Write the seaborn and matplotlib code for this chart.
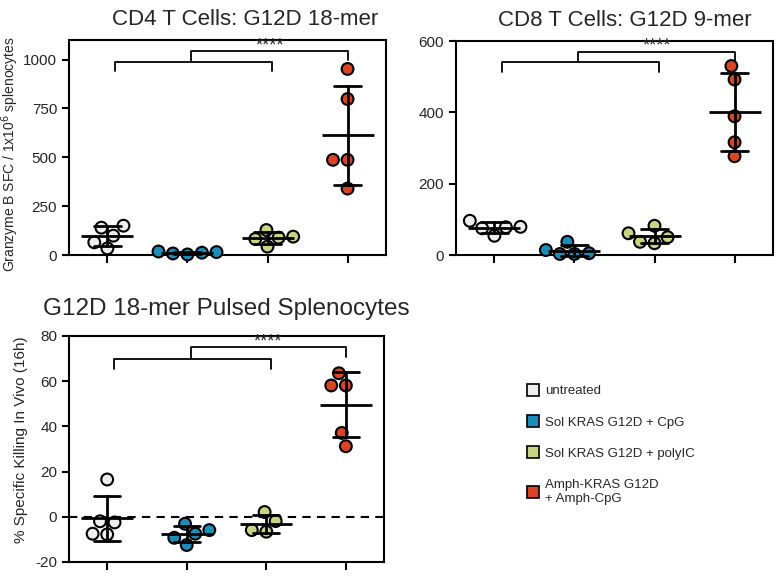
import numpy as np
import pandas as pd
import matplotlib
matplotlib.use('Agg')
import matplotlib.pyplot as plt
import matplotlib.transforms as mtransforms
from matplotlib.lines import Line2D
import seaborn as sns

# groups and colours
groups = ['untreated', 'Sol KRAS G12D + CpG', 'Sol KRAS G12D + polyIC', 'Amph-KRAS G12D\n+ Amph-CpG']
colors = ['#EEEEEE', '#1A8DB8', '#C8D47F', '#DB4325']

# CD4 T cells, G12D 18-mer (Granzyme B SFC)
cd4_untreated = [34, 150, 99, 140, 65]
cd4_cpg = [12, 18, 8, 15, 3]
cd4_polyic = [128, 43, 94, 82, 89]
cd4_amph = [952, 798, 487, 487, 340]

# CD8 T cells, G12D 9-mer
cd8_untreated = [96, 54, 78, 75, 79]
cd8_cpg = [37, 3, 14, 3, 5]
cd8_polyic = [82, 33, 61, 37, 50]
cd8_amph = [530, 492, 389, 316, 277]

# % specific killing in vivo
kill_untreated = [16.5, -2.5, -2.0, -7.8, -7.5]
kill_cpg = [-5.9, -12.5, -7.5, -3.1, -9.3]
kill_polyic = [-6.6, -1.9, 2.1, -5.9]
kill_amph = [63.5, 58.1, 58.1, 37.1, 31.2]


def make_df(*series):
    rows = []
    for g, vals in zip(groups, series):
        for v in vals:
            rows.append({'group': g, 'value': v})
    return pd.DataFrame(rows)


sns.set_style('ticks')
plt.rcParams['font.family'] = ['Liberation Sans', 'DejaVu Sans']
plt.rcParams['axes.unicode_minus'] = False

fig = plt.figure(figsize=(7.76, 5.86), dpi=100)
ax1 = fig.add_axes([0.0889, 0.5648, 0.4085, 0.3669])
ax2 = fig.add_axes([0.5876, 0.5648, 0.4085, 0.3652])
ax3 = fig.add_axes([0.0889, 0.0410, 0.4060, 0.3857])

palette = dict(zip(groups, colors))


def panel(ax, df, ylim, yticks, title, title_x, title_y, title_size):
    sns.pointplot(data=df, x='group', y='value', order=groups, errorbar='sd',
                  capsize=0.33, linestyle='none', marker='_', markersize=38,
                  markeredgewidth=2, color='black',
                  err_kws={'linewidth': 2, 'zorder': 5}, zorder=5, ax=ax)
    sns.swarmplot(data=df, x='group', y='value', order=groups, hue='group',
                  palette=palette, size=8.5, edgecolor='black', linewidth=1.5,
                  legend=False, ax=ax, zorder=3)
    for c in ax.collections:
        c.set_clip_on(False)
    for ln in ax.lines:
        ln.set_clip_on(False)
    ax.set_xlim(-0.48, 3.48)
    ax.set_ylim(*ylim)
    ax.set_yticks(yticks)
    ax.set_xticks(range(len(groups)))
    ax.set_xticklabels([])
    ax.set_xlabel('')
    ax.set_ylabel('')
    for s in ax.spines.values():
        s.set_linewidth(1.5)
        s.set_color('black')
    ax.tick_params(axis='both', width=1.5, length=5, labelsize=11, color='black')
    ax.tick_params(axis='x', length=6)
    ax.text(title_x, title_y, title, transform=ax.transAxes, ha='center',
            va='baseline', fontsize=title_size)

    # significance bracket
    tr = mtransforms.blended_transform_factory(ax.transData, ax.transAxes)
    kw = dict(color='black', lw=1.3, transform=tr, clip_on=False)
    ax.plot([0.09, 0.09, 2.06, 2.06], [0.855, 0.90, 0.90, 0.855], **kw)
    ax.plot([1.05, 1.05, 3.0, 3.0], [0.90, 0.95, 0.95, 0.905], **kw)
    ax.text(2.025, 0.935, '****', transform=tr, ha='center', va='bottom', fontsize=13)


panel(ax1, make_df(cd4_untreated, cd4_cpg, cd4_polyic, cd4_amph), (0, 1100),
      [0, 250, 500, 750, 1000], 'CD4 T Cells: G12D 18-mer', 0.555, 1.07, 16)
ax1.set_ylabel('Granzyme B SFC / 1x10$^6$ splenocytes', fontsize=10)
ax1.yaxis.set_label_coords(-0.15, 0.47)

panel(ax2, make_df(cd8_untreated, cd8_cpg, cd8_polyic, cd8_amph), (0, 600),
      [0, 200, 400, 600], 'CD8 T Cells: G12D 9-mer', 0.533, 1.07, 16)

panel(ax3, make_df(kill_untreated, kill_cpg, kill_polyic, kill_amph), (-20, 80),
      [-20, 0, 20, 40, 60, 80], 'G12D 18-mer Pulsed Splenocytes', 0.5, 1.093, 17.5)
ax3.axhline(0, color='black', lw=1.5, ls=(0, (4, 3)), zorder=1)
ax3.set_ylabel('% Specific Killing In Vivo (16h)', fontsize=11)
ax3.yaxis.set_label_coords(-0.13, 0.54)

handles = [Line2D([], [], ls='none', marker='s', markersize=8,
                  markerfacecolor=c, markeredgecolor='black', markeredgewidth=1.2)
           for c in colors]
fig.legend(handles, groups, loc='upper left', bbox_to_anchor=(0.68, 0.343),
           frameon=False, fontsize=9.5, handlelength=0.8, handletextpad=0.5,
           labelspacing=1.45, borderpad=0, borderaxespad=0)

fig.savefig('out.png', dpi=100)
